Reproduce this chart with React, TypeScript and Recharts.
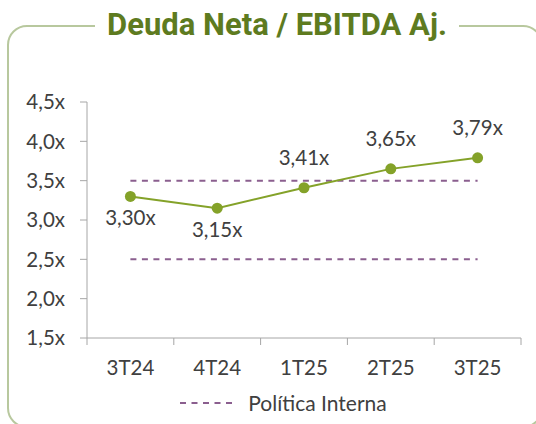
import { LineChart, Line, XAxis, YAxis, Legend, LabelList } from "recharts";

// ---------------------------------------------------------------------------
// Data
// ---------------------------------------------------------------------------

const categories = ["3T24", "4T24", "1T25", "2T25", "3T25"];
const ratioValues = [3.3, 3.15, 3.41, 3.65, 3.79];
const policyUpper = [3.5, 3.5, 3.5, 3.5, 3.5];
const policyLower = [2.5, 2.5, 2.5, 2.5, 2.5];
const yTicks = [1.5, 2, 2.5, 3, 3.5, 4, 4.5];
const labelBelow = [true, true, false, false, false];

const data = categories.map((c, i) => ({
  period: c,
  ratio: ratioValues[i],
  upper: policyUpper[i],
  lower: policyLower[i],
}));

// ---------------------------------------------------------------------------
// Layout / style
// ---------------------------------------------------------------------------

const WIDTH = 536;
const HEIGHT = 424;
const PLOT_LEFT = 87;
const PLOT_RIGHT = 521;
const HALF_BAND = (PLOT_RIGHT - PLOT_LEFT) / categories.length / 2;

const GREEN = "#84a229";
const TITLE_GREEN = "#5e7b1f";
const PURPLE = "#8b5f8f";
const AXIS = "#a6a6a6";
const TEXT = "#404040";
const FONT = "Lato, 'Open Sans', sans-serif";
const FS = 20.5;

const fmt = (v: number, d: number) => v.toFixed(d).replace(".", ",") + "x";

function XTick(props: any) {
  const { x, y, payload, index } = props;
  const last = index === categories.length - 1;
  return (
    <g>
      <line x1={x - HALF_BAND} x2={x - HALF_BAND} y1={y - 7} y2={y} stroke={AXIS} />
      {last && <line x1={x + HALF_BAND} x2={x + HALF_BAND} y1={y - 7} y2={y} stroke={AXIS} />}
      <text
        x={x}
        y={y + 22}
        textAnchor="middle"
        dominantBaseline="central"
        fill={TEXT}
        fontSize={FS}
        fontFamily={FONT}
      >
        {payload.value}
      </text>
    </g>
  );
}

function PointLabel(props: any) {
  const { x, y, value, index } = props;
  const dy = labelBelow[index] ? 21 : -31;
  return (
    <text
      x={x}
      y={y + dy}
      textAnchor="middle"
      dominantBaseline="central"
      fill={TEXT}
      fontSize={FS}
      fontFamily={FONT}
    >
      {fmt(Number(value), 2)}
    </text>
  );
}

function LegendContent(props: any) {
  const items = (props.payload ?? []).filter((p: any) => p.type !== "none");
  return (
    <div style={{ display: "flex", justifyContent: "center", paddingLeft: 39 }}>
      {items.map((p: any) => (
        <div key={p.value} style={{ display: "flex", alignItems: "center", gap: 12 }}>
          <svg width={56} height={4}>
            <line x1={0} y1={2} x2={56} y2={2} stroke={PURPLE} strokeWidth={2} strokeDasharray="6 5.5" />
          </svg>
          <span style={{ fontFamily: FONT, fontSize: 21, color: TEXT, lineHeight: "26px" }}>{p.value}</span>
        </div>
      ))}
    </div>
  );
}

export default function App() {
  return (
    <div style={{ position: "absolute", left: 0, top: 0, width: WIDTH, height: HEIGHT, overflow: "hidden", background: "#fff" }}>
      <div
        style={{
          position: "absolute",
          left: 7,
          top: 25,
          width: 536,
          height: 403,
          boxSizing: "border-box",
          border: "2px solid #b8c89e",
          borderRadius: 20,
        }}
      />
      <div
        style={{
          position: "absolute",
          left: 0,
          width: 554,
          top: 5,
          textAlign: "center",
          pointerEvents: "none",
        }}
      >
        <span
          style={{
            background: "#fff",
            padding: "0 12px",
            fontFamily: "Roboto, sans-serif",
            fontWeight: 700,
            fontSize: 31,
            lineHeight: "40px",
            color: TITLE_GREEN,
          }}
        >
          Deuda Neta / EBITDA Aj.
        </span>
      </div>
      <div style={{ position: "absolute", left: 0, top: 0 }}>
        <LineChart width={WIDTH} height={HEIGHT} data={data} margin={{ top: 102, right: WIDTH - PLOT_RIGHT, bottom: 8, left: 7 }}>
          <XAxis
            dataKey="period"
            padding={{ left: HALF_BAND, right: HALF_BAND }}
            axisLine={{ stroke: AXIS }}
            tickLine={false}
            tickSize={7}
            tickMargin={0}
            height={52}
            tick={<XTick />}
            interval={0}
          />
          <YAxis
            width={80}
            domain={[1.5, 4.5]}
            ticks={yTicks}
            tickFormatter={(v: number) => fmt(v, 1)}
            axisLine={{ stroke: AXIS }}
            tickLine={{ stroke: AXIS }}
            tickSize={7}
            tickMargin={15}
            tick={{ fill: TEXT, fontSize: FS, fontFamily: FONT }}
          />
          <Legend verticalAlign="bottom" height={26} content={<LegendContent />} />
          <Line
            dataKey="upper"
            name="Política Interna"
            stroke={PURPLE}
            strokeWidth={2}
            strokeDasharray="6 5.5"
            dot={false}
            activeDot={false}
            isAnimationActive={false}
          />
          <Line
            dataKey="lower"
            name="Política Interna (mín)"
            legendType="none"
            stroke={PURPLE}
            strokeWidth={2}
            strokeDasharray="6 5.5"
            dot={false}
            activeDot={false}
            isAnimationActive={false}
          />
          <Line
            dataKey="ratio"
            name="Deuda Neta / EBITDA Aj."
            legendType="none"
            stroke={GREEN}
            strokeWidth={2}
            dot={{ r: 5.5, fill: GREEN, stroke: GREEN, strokeWidth: 0 }}
            activeDot={false}
            isAnimationActive={false}
          >
            <LabelList dataKey="ratio" content={<PointLabel />} />
          </Line>
        </LineChart>
      </div>
    </div>
  );
}
